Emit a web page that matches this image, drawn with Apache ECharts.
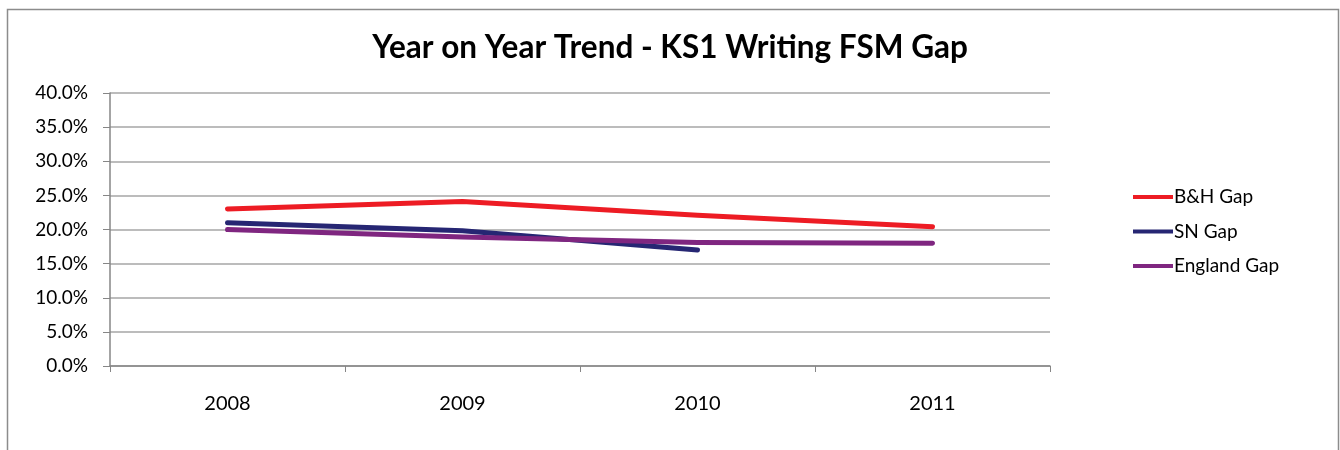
<!DOCTYPE html>
<html>
<head>
<meta charset="utf-8">
<script src="https://cdn.jsdelivr.net/npm/echarts@6/dist/echarts.min.js"></script>
<style>
html,body{margin:0;padding:0;background:#fff;}
#chart{width:1340px;height:450px;}
</style>
</head>
<body>
<div id="chart"></div>
<script>
const years = ['2008', '2009', '2010', '2011'];
const bhGap = [23.0, 24.1, 22.1, 20.4];
const snGap = [21.0, 19.8, 17.0, null];
const englandGap = [20.0, 18.9, 18.1, 18.0];
const seriesNames = ['B&H Gap', 'SN Gap', 'England Gap'];
const seriesColors = ['#ED1C24', '#262673', '#7F2680'];

const FONT = 'Lato, "Open Sans", sans-serif';
const chart = echarts.init(document.getElementById('chart'), null, {renderer: 'canvas'});
const mk = (name, data, color) => ({
  name: name,
  type: 'line',
  data: data,
  symbol: 'none',
  color: color,
  lineStyle: {width: 5, color: color, cap: 'round', join: 'round'},
  connectNulls: false,
  animation: false
});
chart.setOption({
  animation: false,
  graphic: [{
    type: 'rect',
    shape: {x: 7.5, y: 9.5, width: 1331, height: 460},
    style: {fill: 'none', stroke: '#8c8c8c', lineWidth: 1.5},
    silent: true, z: -10
  }],
  title: {
    text: 'Year on Year Trend - KS1 Writing FSM Gap',
    left: 'center',
    top: 27,
    textStyle: {fontFamily: FONT, fontWeight: 'bold', fontSize: 31.5, color: '#000'}
  },
  legend: {
    orient: 'vertical',
    left: 1128,
    top: 182,
    itemWidth: 40,
    itemHeight: 4,
    itemGap: 14.5,
    icon: 'rect',
    textStyle: {fontFamily: FONT, fontSize: 19, lineHeight: 20, color: '#000', padding: [0,0,0,-4]},
    data: seriesNames
  },
  grid: {left: 110, right: 290, top: 93, bottom: 84, containLabel: false},
  xAxis: {
    type: 'category',
    data: years,
    boundaryGap: true,
    axisLine: {lineStyle: {color: '#868686', width: 1.5}},
    axisTick: {show: true, length: 6, lineStyle: {color: '#868686'}, alignWithLabel: false},
    axisLabel: {fontFamily: FONT, fontSize: 20, color: '#000', margin: 28},
    splitLine: {show: false}
  },
  yAxis: {
    type: 'value',
    min: 0, max: 40, interval: 5,
    axisLine: {show: true, lineStyle: {color: '#868686', width: 1.5}},
    axisTick: {show: true, length: 7, lineStyle: {color: '#868686'}},
    axisLabel: {fontFamily: FONT, fontSize: 19, color: '#000', margin: 22,
      formatter: v => v.toFixed(1) + '%'},
    splitLine: {show: true, lineStyle: {color: '#a6a6a6', width: 1.5}}
  },
  series: [
    mk(seriesNames[0], bhGap, seriesColors[0]),
    mk(seriesNames[1], snGap, seriesColors[1]),
    mk(seriesNames[2], englandGap, seriesColors[2])
  ]
});
</script>
</body>
</html>
